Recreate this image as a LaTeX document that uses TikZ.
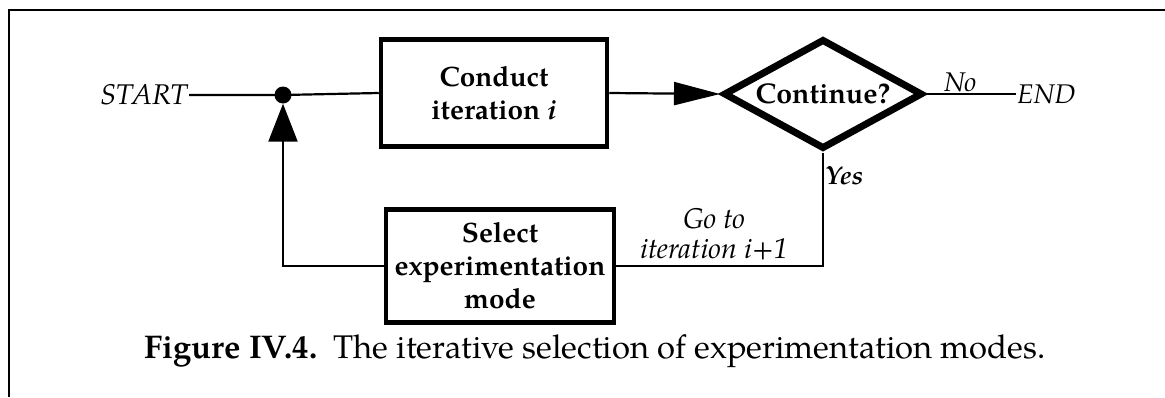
\documentclass[tikz,border=0pt]{standalone}
\usepackage{fontspec}
\setmainfont{TeX Gyre Pagella}
\usetikzlibrary{shapes.geometric,arrows.meta}

\tikzset{
  procbox/.style={draw, line width=4.5pt, align=center, font=\fontsize{28}{33}\selectfont\bfseries, inner sep=0pt},
  decision/.style={draw, diamond, aspect=1.93, line width=7pt, inner xsep=-6pt, inner ysep=0pt, font=\fontsize{28.5}{31}\selectfont\bfseries},
  link/.style={line width=2.2pt},
  junction/.style={circle, fill, inner sep=0pt, minimum size=17pt},
  tag/.style={font=\fontsize{27}{28}\selectfont\itshape, inner sep=2pt},
}

\begin{document}
\begin{tikzpicture}[x=1pt,y=-1pt]
\useasboundingbox (0,0) rectangle (1165,397);

% frame around the figure
\draw[line width=2.5pt] (9,397) -- (9,10) -- (1165,10);

% nodes
\node[tag, anchor=east, font=\fontsize{28.5}{28}\selectfont\itshape, inner sep=1pt] (start) at (189,95) {START};
\node[junction] (junc) at (283,95) {};
\node[procbox, minimum width=226pt, minimum height=107pt] (conduct) at (494,93) {Conduct\\iteration \textit{i}};
\node[decision, minimum width=199pt, minimum height=110pt] (cont) at (823,94) {Continue?};
\node[tag, anchor=west, inner sep=1pt] (finish) at (1016,94) {END};
\node[procbox, minimum width=228pt, minimum height=113pt] (select) at (500,266) {Select\\experimentation\\mode};
\coordinate (turn) at (cont.south |- select.east);
\coordinate (yesrow) at (0,176);

% branch labels
\node[tag, anchor=west, inner sep=1pt, font=\fontsize{26}{28}\selectfont\bfseries\itshape] (yes) at ([xshift=1pt]cont.south |- yesrow) {Yes};
\node[tag, align=center, font=\fontsize{28.5}{30}\selectfont\itshape] (goto) at (714,234) {Go to\\iteration i+1};

% connectors
\draw[link] (start.east) -- (junc.center) -- (conduct.west);
\draw[link, -{Triangle[length=46pt, width=23pt]}] (conduct.east) -- (cont.west);
\draw[link] (cont.east) -- node[tag, above, pos=0.38, inner sep=1pt] {No} (finish.west);
\draw[link] (cont.south) -- (turn) -- (select.east);
\draw[link, -{Triangle[length=38pt, width=29pt]}] (select.west) -| (junc.south);

% caption
\node (caption) at (595,351) {\fontsize{32.8}{38}\selectfont\textbf{Figure IV.4.}\enspace The iterative selection of experimentation modes.};
\end{tikzpicture}
\end{document}
